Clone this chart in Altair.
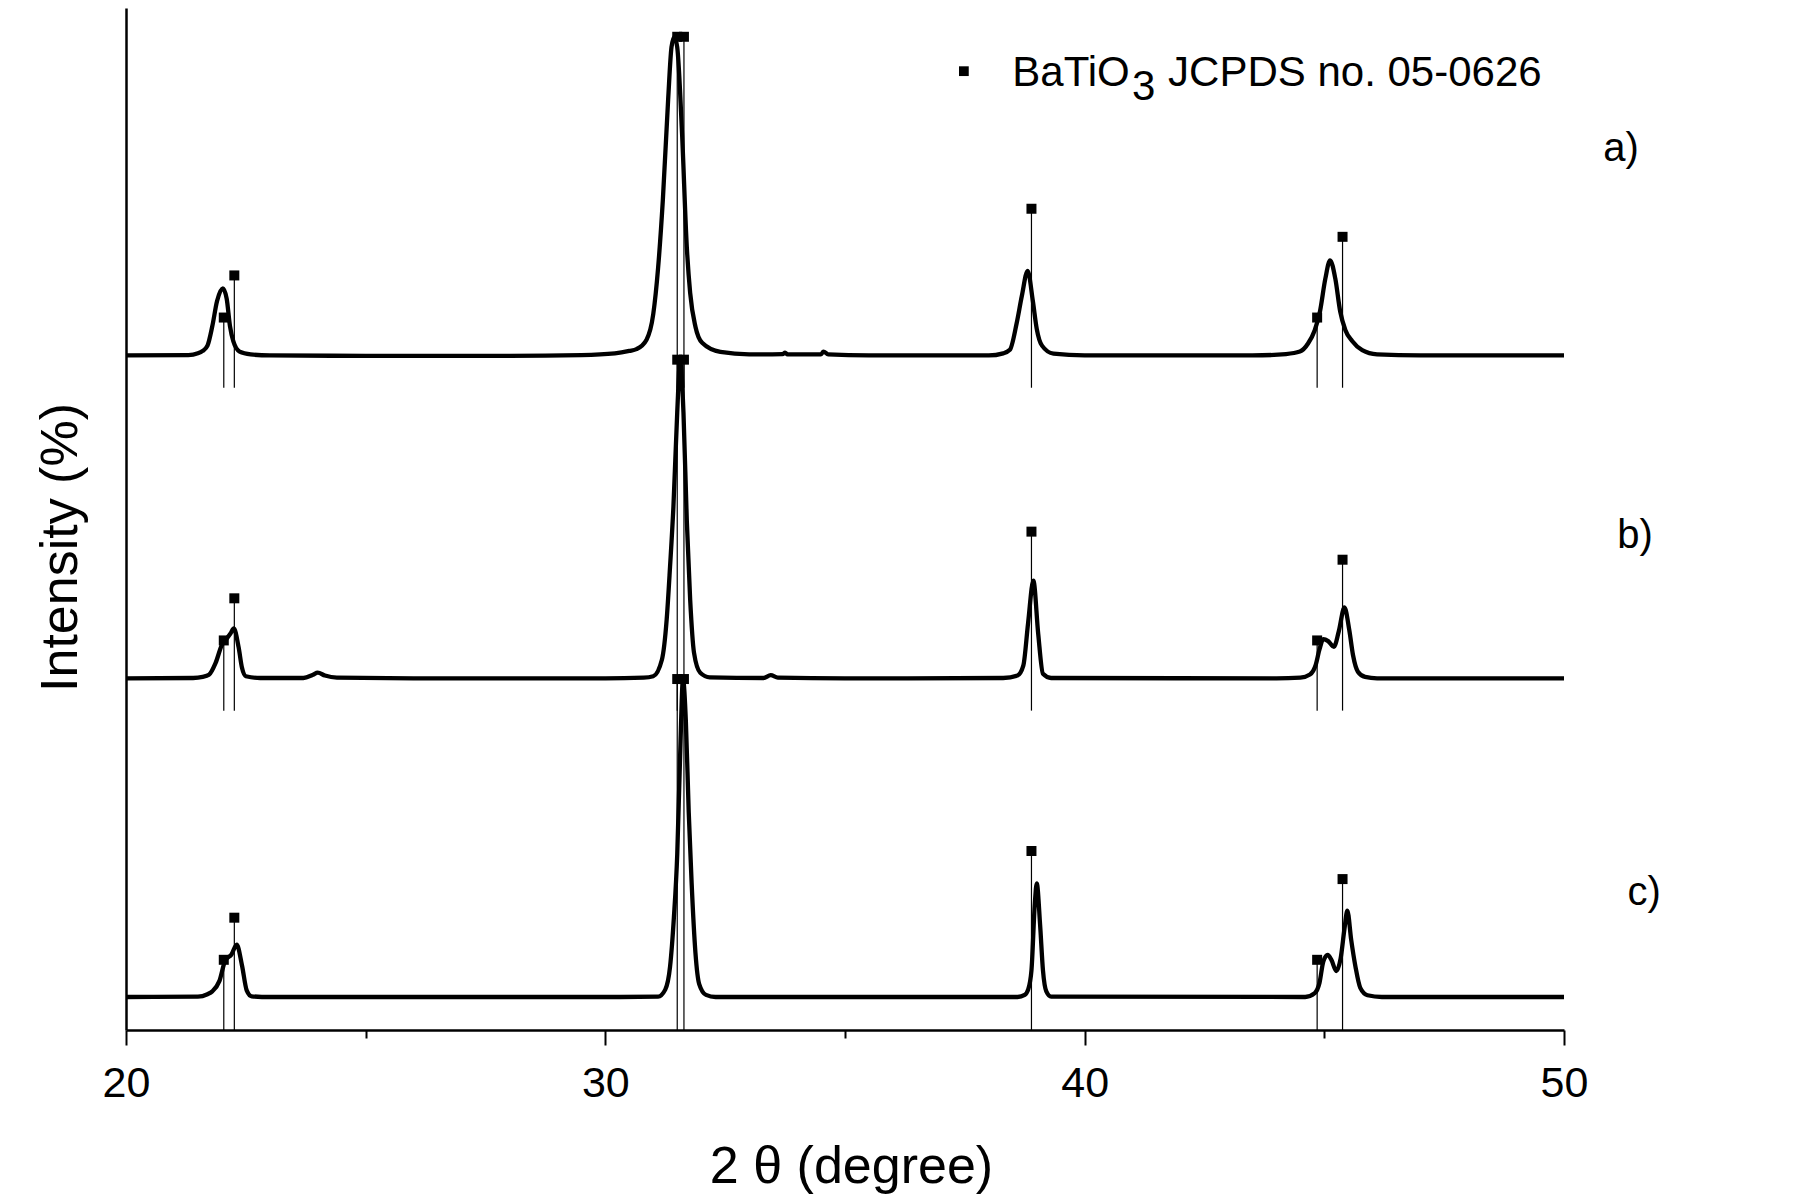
import altair as alt
import pandas as pd

# ---------------- data ----------------
# sample a)
a_tth = [20.0, 21.3, 21.5, 21.6, 21.7, 21.8, 21.9, 22.02, 22.1, 22.17, 22.24, 22.37, 22.6, 23.0,
         25.0, 28.0, 29.5, 30.2, 30.5, 30.65, 30.86, 31.0, 31.1, 31.2, 31.31, 31.38, 31.44, 31.5,
         31.6, 31.7, 31.77, 31.88, 32.02, 32.4, 33.0, 33.7, 33.75, 33.8, 34.5, 34.55, 34.65, 35.5,
         38.0, 38.3, 38.44, 38.58, 38.69, 38.81, 38.92, 39.0, 39.11, 39.35, 40.0,
         43.5, 44.2, 44.49, 44.66, 44.8, 44.91, 45.02, 45.12, 45.23, 45.33, 45.44, 45.58, 45.79,
         46.1, 47.0, 50.0]
a_int = [9.2, 9.3, 9.8, 10.5, 12.0, 17.5, 24.7, 28.3, 25.4, 17.5, 13.2, 10.3, 9.5, 9.2,
         9.1, 9.1, 9.3, 9.8, 10.5, 11.0, 13.7, 21.0, 34.0, 53.5, 82.0, 97.0, 100.0, 97.0,
         72.6, 40.0, 27.0, 17.4, 12.8, 10.2, 9.5, 9.6, 10.0, 9.5, 9.5, 10.3, 9.5, 9.2,
         9.2, 9.8, 10.8, 18.3, 26.2, 33.3, 24.6, 16.8, 12.0, 9.7, 9.2,
         9.2, 9.6, 10.3, 12.6, 16.4, 21.8, 31.0, 36.3, 31.0, 21.8, 16.4, 13.3, 10.7,
         9.5, 9.2, 9.2]

# sample b)
b_tth = [20.0, 21.4, 21.6, 21.73, 21.87, 22.0, 22.1, 22.18, 22.25, 22.35, 22.42, 22.5, 22.8,
         23.7, 23.9, 24.0, 24.15, 24.4, 26.0, 30.0, 30.8, 31.0, 31.18, 31.28, 31.35, 31.42,
         31.5, 31.56, 31.63, 31.7, 31.77, 31.85, 31.98, 32.18, 33.3, 33.45, 33.6, 35.0,
         38.3, 38.6, 38.72, 38.82, 38.93, 39.03, 39.13, 39.3, 44.0, 44.5, 44.7, 44.82, 44.9,
         44.98, 45.08, 45.2, 45.3, 45.42, 45.52, 45.6, 45.7, 45.85, 46.1, 50.0]
b_int = [9.2, 9.3, 9.6, 10.2, 13.6, 18.7, 20.5, 22.0, 23.4, 18.0, 12.2, 9.8, 9.3,
         9.3, 10.2, 10.8, 10.0, 9.4, 9.2, 9.2, 9.4, 9.8, 14.5, 26.0, 41.0, 58.0,
         85.0, 99.5, 85.0, 54.0, 31.6, 16.5, 10.8, 9.5, 9.3, 10.1, 9.4, 9.2,
         9.3, 10.0, 12.8, 25.0, 37.0, 22.0, 10.5, 9.3, 9.2, 9.4, 10.3, 13.0, 17.5,
         20.4, 19.8, 18.2, 22.5, 29.4, 23.0, 15.7, 11.1, 9.6, 9.2, 9.2]

# sample c)
c_tth = [20.0, 21.5, 21.7, 21.8, 21.95, 22.07, 22.2, 22.31, 22.42, 22.52, 22.62, 23.0, 30.0,
         31.1, 31.25, 31.35, 31.43, 31.5, 31.56, 31.62, 31.68, 31.74, 31.8, 31.88, 31.96, 32.1,
         32.3, 38.6, 38.75, 38.82, 38.89, 38.96, 39.0, 39.07, 39.13, 39.2, 39.3,
         44.6, 44.8, 44.9, 44.98, 45.07, 45.15, 45.25, 45.34, 45.42, 45.48, 45.56, 45.65,
         45.75, 45.9, 46.2, 50.0]
c_int = [9.4, 9.5, 10.2, 11.0, 14.0, 19.8, 21.5, 24.3, 18.4, 11.2, 9.6, 9.4, 9.4,
         9.5, 11.5, 18.0, 32.0, 50.0, 78.0, 100.0, 88.0, 62.0, 42.0, 22.0, 13.0, 10.0,
         9.4, 9.4, 10.0, 11.5, 17.0, 36.0, 41.8, 30.0, 17.0, 11.0, 9.5,
         9.4, 10.5, 13.5, 19.6, 21.4, 19.9, 16.8, 20.4, 28.8, 34.0, 25.7, 18.0,
         12.0, 9.9, 9.4, 9.4]

# BaTiO3 JCPDS no. 05-0626 reference lines
ref_pos = [22.04, 22.26, 31.50, 31.64, 38.89, 44.85, 45.38]
ref_int = [20, 32, 100, 100, 51, 20, 43]

samples = ["a)", "b)", "c)"]
offsets = [183, 91, 0]              # vertical stacking of the three patterns
label_x = [51.19, 51.48, 51.67]
label_y = [251, 140.7, 39]

legend_text = ["BaTiO", "3", "JCPDS no. 05-0626"]

# ---------------- tables ----------------
curve_rows = []
for name, off, tt, ii in zip(samples, offsets, [a_tth, b_tth, c_tth], [a_int, b_int, c_int]):
    for t, i in zip(tt, ii):
        curve_rows.append({"sample": name, "tth": t, "y": i + off})
curves = pd.DataFrame(curve_rows)

stick_rows = []
for name, off in zip(samples, offsets):
    for p, i in zip(ref_pos, ref_int):
        stick_rows.append({"sample": name, "pos": p, "base": off, "top": off + i})
sticks = pd.DataFrame(stick_rows)

labels = pd.DataFrame({"label": samples, "x": label_x, "y": label_y})
leg_mark = pd.DataFrame({"x": [37.48], "y": [273.2]})
leg_main = pd.DataFrame({"x": [38.49], "y": [269.0], "t": [legend_text[0]]})
leg_sub = pd.DataFrame({"x": [40.99], "y": [265.0], "t": [legend_text[1]]})
leg_rest = pd.DataFrame({"x": [41.74], "y": [269.0], "t": [legend_text[2]]})

# ---------------- chart ----------------
FONT = "Liberation Sans"
xs = alt.Scale(domain=[20, 50], nice=False, zero=False)
ys = alt.Scale(domain=[0, 291.2], nice=False, zero=False)

x_axis = alt.Axis(
    values=[20, 25, 30, 35, 40, 45, 50],
    labelExpr="datum.value % 10 === 0 ? datum.label : ''",
    tickSize={"condition": {"test": "datum.value % 10 === 0", "value": 15}, "value": 8},
    tickWidth=2, tickColor="black",
    domainColor="black", domainWidth=2.5,
    labelFontSize=43, labelColor="black", labelFlush=False,
    labelBaseline="alphabetic", labelPadding=51,
    grid=False,
    title="2 θ (degree)", titleFontSize=52, titleFontWeight="normal", titleColor="black",
    titleX=725, titleY=152, titleBaseline="alphabetic", titleAlign="center",
)
y_axis = alt.Axis(
    ticks=False, labels=False, grid=False,
    domainColor="black", domainWidth=2.5,
    title="Intensity (%)", titleFontSize=52, titleFontWeight="normal", titleColor="black",
    titleX=-66, titleY=539, titleAlign="center", titleBaseline="middle",
)


def X(field):
    return alt.X(field, type="quantitative", scale=xs, axis=x_axis)


def Y(field):
    return alt.Y(field, type="quantitative", scale=ys, axis=y_axis)


lines = alt.Chart(curves).mark_line(color="black", strokeWidth=4.3, interpolate="monotone").encode(
    x=X("tth"), y=Y("y"), detail="sample:N",
)

rules = alt.Chart(sticks).mark_rule(color="black", strokeWidth=1.2).encode(
    x=X("pos"), y=Y("base"), y2="top:Q",
)

markers = alt.Chart(sticks).mark_point(shape="square", filled=True, size=100, color="black",
                                       opacity=1, strokeWidth=0).encode(
    x=X("pos"), y=Y("top"),
)

lab = alt.Chart(labels).mark_text(fontSize=40, align="center", baseline="middle", color="black",
                                  font=FONT).encode(
    x=X("x"), y=Y("y"), text="label:N",
)

lm = alt.Chart(leg_mark).mark_point(shape="square", filled=True, size=95, color="black",
                                    opacity=1, strokeWidth=0).encode(
    x=X("x"), y=Y("y"),
)


def legend_piece(df):
    return alt.Chart(df).mark_text(fontSize=42, align="left", baseline="alphabetic", color="black",
                                   font=FONT).encode(
        x=X("x"), y=Y("y"), text="t:N",
    )


chart = alt.layer(lines, rules, markers, lab, lm,
                  legend_piece(leg_main), legend_piece(leg_sub), legend_piece(leg_rest)).properties(
    width=1438, height=1022,
    autosize=alt.AutoSizeParams(type="none"),
    padding={"left": 118, "top": 0, "right": 160, "bottom": 165},
).configure(font=FONT).configure_view(strokeWidth=0)

chart.save("out.html", embed_options={"renderer": "svg", "actions": False})
